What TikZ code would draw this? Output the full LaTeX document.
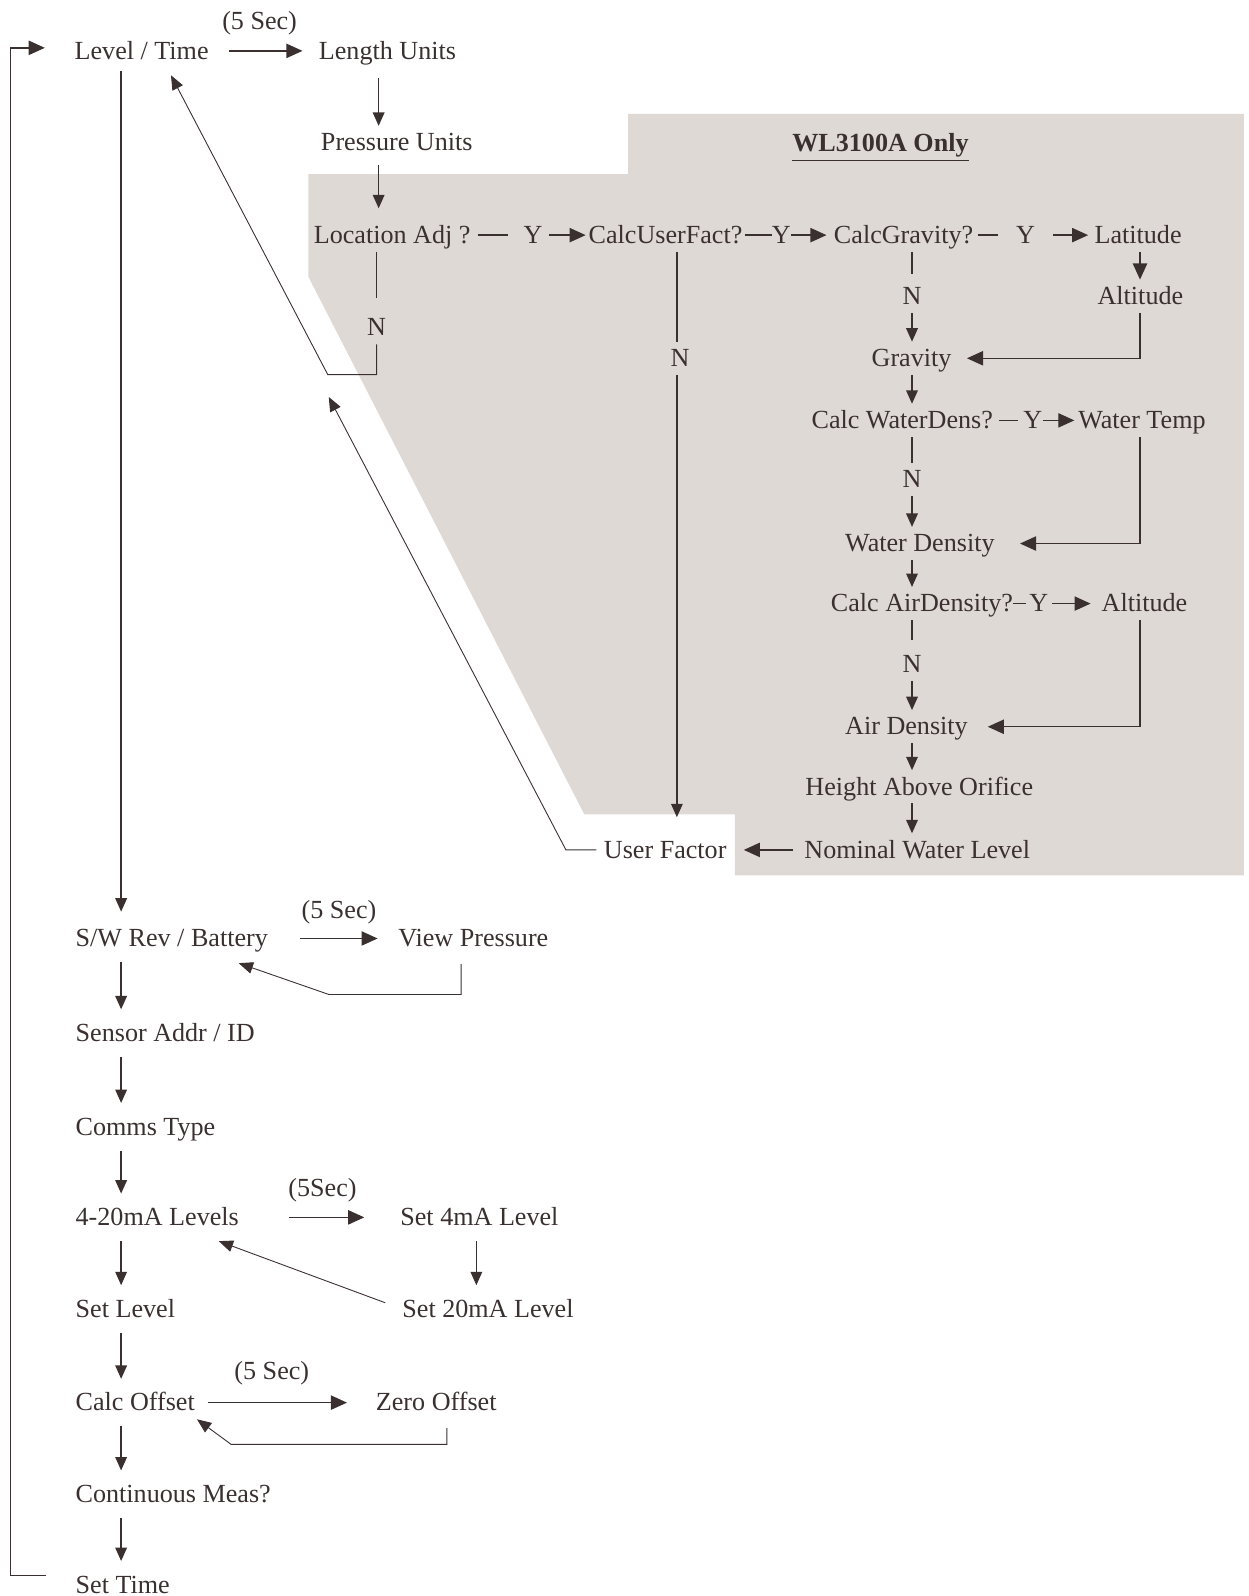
\documentclass[tikz,border=0pt]{standalone}
\usepackage{fontspec}
\setmainfont{Liberation Serif}
\usepackage{xcolor}
\usetikzlibrary{arrows.meta,calc}
\definecolor{ink}{RGB}{58,48,48}
\definecolor{wlgray}{RGB}{223,217,213}

\begin{document}
\begin{tikzpicture}[x=0.02cm,y=-0.02cm,
    menu/.style={anchor=west,inner xsep=0pt,inner ysep=1.1pt,text height=12.6pt,text depth=3.4pt,text=ink,font=\fontsize{14.6}{17}\selectfont},
    lab/.style={menu,anchor=center},
    ln/.style={draw=ink,line width=0.75pt},
    arr/.style={ln,-{Triangle[length=7.5pt,width=6.5pt]}},
    harr/.style={ln,-{Triangle[length=9pt,width=8pt]}},
    thinarr/.style={ln,line width=0.5pt,-{Triangle[length=8pt,width=6.5pt]}},
    mainlink/.style={arr,shorten <=4pt,shorten >=4pt}]
  \useasboundingbox (0,0) rectangle (1227,1568);
  % WL3100A panel
  \fill[wlgray] (303,171) -- (617,171) -- (617,112) -- (1222,112) -- (1222,860) -- (722,860) -- (722,800) -- (574,800) -- (303,272) -- cycle;
  \node[lab,font=\fontsize{14.6}{17}\bfseries] (title) at (865,141) {\underline{WL3100A Only}};

  % columns and bends
  \coordinate (colmain) at (119,0);
  \coordinate (colloc) at (372,0);
  \coordinate (colu) at (665,0);
  \coordinate (colm) at (896,0);
  \coordinate (colr) at (1120,0);
  \coordinate (colvp) at (453,0);
  \coordinate (colset) at (468,0);
  \coordinate (colzo) at (439,0);
  \coordinate (nturn) at (322,368);
  \coordinate (lvlback) at (168,74);
  \coordinate (ufturn) at (556,835);
  \coordinate (ufback) at (323,390);
  \coordinate (vpturn) at (323,977);
  \coordinate (zturn) at (227,1419);
  \coordinate (loopbot) at (10,1548);
  \coordinate (looptop) at (10,47);

  % top menu
  \node[menu] (lvl) at (73,50) {Level / Time};
  \node[menu] (sec1) at (218,21) {(5 Sec)};
  \node[menu] (lenu) at (313,50) {Length Units};
  \node[menu] (presu) at (315,140) {Pressure Units};
  \node[menu] (locadj) at (308,231) {Location Adj ?};
  \node[menu] (ylo) at (514,231) {Y};
  \node[menu] (cuf) at (578,231) {CalcUserFact?};
  \node[menu] (ycuf) at (758,231) {Y};
  \node[menu] (cg) at (819,231) {CalcGravity?};
  \node[menu] (ycg) at (998,231) {Y};
  \node[menu] (lat) at (1075,231) {Latitude};
  \node[menu] (alt1) at (1078,291) {Altitude};
  \node[lab] (nlo) at (370,322) {N};
  \node[lab] (ncuf) at (668,352) {N};
  \node[lab] (ncg) at (896,291) {N};
  \node[menu] (grav) at (856,352) {Gravity};
  \node[menu] (cwd) at (797,413) {Calc WaterDens?};
  \node[menu] (ycwd) at (1005,413) {Y};
  \node[menu] (wt) at (1059,413) {Water Temp};
  \node[lab] (ncwd) at (896,471) {N};
  \node[menu] (wd) at (830,534) {Water Density};
  \node[menu] (cad) at (816,593) {Calc AirDensity?};
  \node[menu] (ycad) at (1011,593) {Y};
  \node[menu] (alt2) at (1082,593) {Altitude};
  \node[lab] (ncad) at (896,653) {N};
  \node[menu] (ad) at (830,714) {Air Density};
  \node[menu] (hao) at (791,773) {Height Above Orifice};
  \node[menu] (nwl) at (790,835) {Nominal Water Level};
  \node[menu] (uf) at (593,835) {User Factor};

  % lower menu
  \node[menu] (swrev) at (74,922) {S/W Rev / Battery};
  \node[menu] (sec2) at (296,894) {(5 Sec)};
  \node[menu] (vp) at (391,922) {View Pressure};
  \node[menu] (sens) at (74,1015) {Sensor Addr / ID};
  \node[menu] (comms) at (74,1107) {Comms Type};
  \node[menu] (lv420) at (74,1196) {4-20mA Levels};
  \node[menu] (sec3) at (283,1167) {(5Sec)};
  \node[menu] (set4) at (393,1196) {Set 4mA Level};
  \node[menu] (set20) at (395,1286) {Set 20mA Level};
  \node[menu] (setlvl) at (74,1286) {Set Level};
  \node[menu] (calcoff) at (74,1378) {Calc Offset};
  \node[menu] (sec4) at (230,1347) {(5 Sec)};
  \node[menu] (zoff) at (369,1378) {Zero Offset};
  \node[menu] (cont) at (74,1468) {Continuous Meas?};
  \node[menu] (settime) at (74,1557) {Set Time};

  % top links
  \draw[harr,shorten <=11pt,shorten >=9pt] (lvl.east) -- (lenu.west);
  \draw[arr,shorten <=6pt] (lenu.south -| colloc) -- (presu.north -| colloc);
  \draw[arr,shorten <=3.4pt,shorten >=5.7pt] (presu.south -| colloc) -- (locadj.north -| colloc);
  \draw[ln,shorten <=4pt,shorten >=8.5pt] (locadj.east) -- (ylo.west);
  \draw[harr,shorten <=3.4pt,shorten >=1.5pt] (ylo.east) -- (cuf.west);
  \draw[ln,shorten <=1pt] (cuf.east) -- (ycuf.west);
  \draw[harr,shorten >=4pt] (ycuf.east) -- (cg.west);
  \draw[ln,shorten <=2.3pt,shorten >=9.7pt] (cg.east) -- (ycg.west);
  \draw[harr,shorten <=10pt,shorten >=3.4pt] (ycg.east) -- (lat.west);
  \draw[harr] (lat.south -| colr) -- (alt1.north -| colr);
  \draw[harr,shorten >=8.5pt] (alt1.south -| colr) |- (grav.east);
  \draw[ln,shorten >=3pt] (cg.south -| colm) -- (ncg.north);
  \draw[arr] (ncg.south) -- (grav.north -| colm);
  \draw[ln,shorten <=3.4pt,shorten >=3pt] (cwd.east) -- (ycwd.west);
  \draw[harr,shorten >=2pt] (ycwd.east) -- (wt.west);
  \draw[ln] (cwd.south -| colm) -- (ncwd.north);
  \draw[arr] (ncwd.south) -- (wd.north -| colm);
  \draw[harr,shorten >=14pt] (wt.south -| colr) |- (wd.east);
  \draw[ln,shorten >=1.7pt] (cad.east) -- (ycad.west);
  \draw[harr,shorten <=2pt,shorten >=6pt] (ycad.east) -- (alt2.west);
  \draw[ln,shorten >=4.5pt] (cad.south -| colm) -- (ncad.north);
  \draw[arr] (ncad.south) -- (ad.north -| colm);
  \draw[harr,shorten >=11pt] (alt2.south -| colr) |- (ad.east);
  \foreach \a/\b in {grav/cwd, wd/cad, ad/hao, hao/nwl}
    \draw[arr] (\a.south -| colm) -- (\b.north -| colm);
  \draw[harr,shorten <=6pt,shorten >=9.5pt] (nwl.west) -- (uf.east);
  \draw[ln] (cuf.south -| colu) -- (ncuf.north -| colu);
  \draw[arr,shorten >=9pt] (ncuf.south -| colu) -- (uf.north -| colu);
  \draw[ln,shorten >=7.4pt] (locadj.south -| nlo) -- (nlo.north);
  % way back to Level / Time
  \draw[thinarr] (nlo.south) |- (nturn) -- (lvlback);
  \draw[thinarr,shorten <=4pt] (uf.west) -- (ufturn) -- (ufback);

  % main column
  \draw[arr,shorten <=1.7pt,shorten >=5.7pt] (lvl.south -| colmain) -- (swrev.north -| colmain);
  \foreach \a/\b in {swrev/sens, sens/comms, comms/lv420, lv420/setlvl, setlvl/calcoff, calcoff/cont, cont/settime}
    \draw[mainlink] (\a.south -| colmain) -- (\b.north -| colmain);
  \draw[harr,shorten <=18pt,shorten >=11.4pt] (swrev.east) -- (vp.west);
  \draw[thinarr,shorten <=5pt] (vp.south -| colvp) |- (vpturn) -- ([xshift=-16.5pt,yshift=-4.5pt]swrev.south east);
  \draw[harr,shorten <=28pt,shorten >=20pt] (lv420.east) -- (set4.west);
  \draw[mainlink] (set4.south -| colset) -- (set20.north -| colset);
  \draw[thinarr,shorten <=10pt] (set20.west) -- ([xshift=-11.4pt,yshift=-4pt]lv420.south east);
  \draw[harr,shorten <=7pt,shorten >=16pt] (calcoff.east) -- (zoff.west);
  \draw[thinarr,shorten <=5pt] (zoff.south -| colzo) |- (zturn) -- ([xshift=1pt]calcoff.south east);
  % loop back to the top
  \draw[harr] ([xshift=-16.5pt]settime.west |- loopbot) -- (loopbot) -- (looptop) -- ([xshift=-16.5pt]lvl.west |- looptop);
\end{tikzpicture}
\end{document}
